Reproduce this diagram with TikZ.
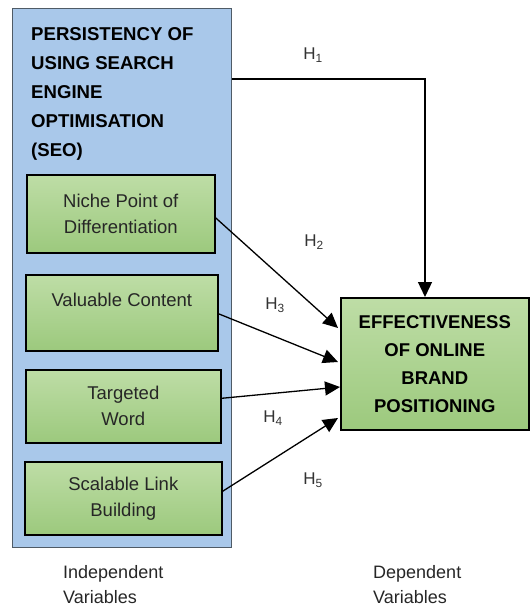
\documentclass[tikz,border=0pt]{standalone}
\usepackage{fontspec}
\setmainfont{Liberation Sans}
\usetikzlibrary{arrows.meta,calc}
\definecolor{bluefill}{HTML}{A9C8EA}
\definecolor{blueedge}{HTML}{4F5B66}
\definecolor{greentop}{HTML}{BEDDA6}
\definecolor{greenbot}{HTML}{9CC97D}
\begin{document}
\begin{tikzpicture}[x=1pt,y=-1pt,
 greenbox/.style={draw=black, line width=1.6pt, top color=greentop, bottom color=greenbot, inner sep=0pt, align=center, font=\fontsize{18.5}{26}\selectfont, text=black!85},
 arr/.style={line width=1.3pt, -{Triangle[length=15pt,width=14pt]}},
 hlab/.style={font=\fontsize{17}{20}\selectfont, text=black!80, inner sep=0pt},
 foot/.style={font=\fontsize{18}{25}\selectfont, align=left, anchor=west, inner sep=0pt, text=black!85}]
\useasboundingbox (0,0) rectangle (530,611);
\node[draw=blueedge, line width=1.2pt, fill=bluefill, minimum width=219pt, minimum height=539pt, inner sep=0pt, anchor=north west] (seo) at (12,8) {};
\node[anchor=north west, align=left, font=\bfseries\fontsize{18.6}{29}\selectfont, inner sep=0pt] (title) at (31,27) {PERSISTENCY OF\\USING SEARCH\\ENGINE\\OPTIMISATION\\(SEO)};
\node[greenbox, minimum width=188pt, minimum height=78pt, anchor=north west] (niche) at (26,174) {Niche Point of\\Differentiation};
\node[greenbox, minimum width=192pt, minimum height=76pt, anchor=north west] (valu) at (25,274) {Valuable Content\\\mbox{}};
\node[greenbox, minimum width=195pt, minimum height=73pt, anchor=north west] (targ) at (25,369) {Targeted\\Word};
\node[greenbox, minimum width=197pt, minimum height=73pt, anchor=north west] (scal) at (24,461) {Scalable Link\\Building};
\node[greenbox, font=\bfseries\fontsize{18.5}{28}\selectfont, text=black, minimum width=188pt, minimum height=132pt, anchor=north west] (eff) at (340,297) {EFFECTIVENESS\\OF ONLINE\\BRAND\\POSITIONING};
\coordinate (h1turn) at (425,79);
\draw[arr] (seo.east |- h1turn) -- (h1turn) -- (eff.north -| h1turn);
\draw[arr] ($(niche.east)+(0,4)$) -- ($(eff.north west)+(-2,31)$);
\draw[arr] ($(valu.east)+(0,1)$) -- ($(eff.north west)+(-2,65)$);
\draw[arr] ($(targ.east)+(0,-8)$) -- ($(eff.north west)+(0,90)$);
\draw[arr] ($(scal.east)+(0,-7)$) -- ($(eff.north west)+(-2,121)$);
\node[hlab] (h1) at (313,55) {H\textsubscript{1}};
\node[hlab] (h2) at (314,242) {H\textsubscript{2}};
\node[hlab] (h3) at (275,305) {H\textsubscript{3}};
\node[hlab] (h4) at (273,418) {H\textsubscript{4}};
\node[hlab] (h5) at (313,480) {H\textsubscript{5}};
\node[foot] (indep) at (63,585) {Independent\\Variables};
\node[foot] (dep) at (373,585) {Dependent\\Variables};
\end{tikzpicture}
\end{document}
